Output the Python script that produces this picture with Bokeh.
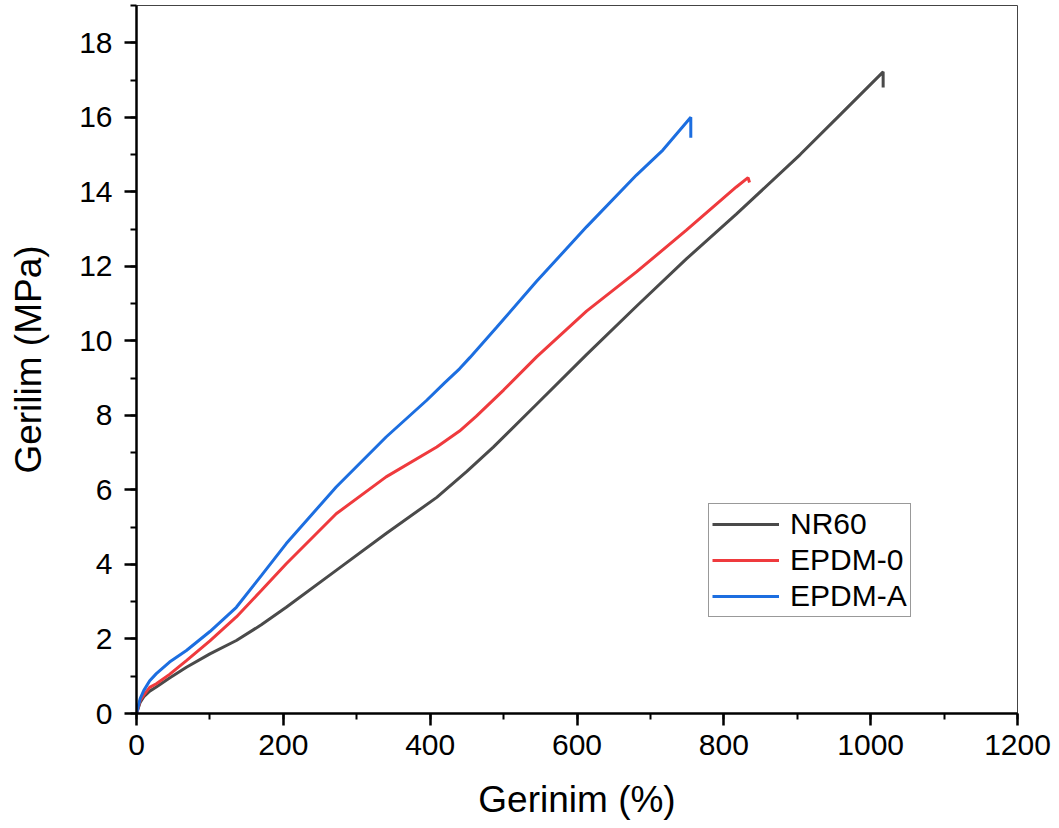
from bokeh.plotting import figure
from bokeh.models import Range1d, SingleIntervalTicker, Legend, LegendItem
from bokeh.embed import file_html
from bokeh.resources import INLINE

# Data (strain %, stress MPa)
nr60_x = [0, 5, 10, 18, 27, 45, 68, 100, 136, 170, 204, 272, 340, 409, 450, 486, 545, 613, 681, 749, 817, 904, 960, 1017, 1017]
nr60_y = [0, 0.3, 0.45, 0.6, 0.71, 0.95, 1.24, 1.6, 1.96, 2.38, 2.85, 3.84, 4.83, 5.8, 6.5, 7.15, 8.3, 9.63, 10.93, 12.2, 13.4, 15.0, 16.1, 17.22, 16.8]

epdm0_x = [0, 5, 10, 18, 27, 45, 68, 100, 136, 170, 204, 272, 340, 409, 440, 463, 500, 545, 613, 681, 749, 817, 833, 835]
epdm0_y = [0, 0.35, 0.5, 0.7, 0.8, 1.05, 1.42, 1.95, 2.59, 3.3, 4.02, 5.36, 6.35, 7.15, 7.58, 7.98, 8.68, 9.57, 10.8, 11.85, 12.97, 14.13, 14.38, 14.25]

epdma_x = [0, 5, 10, 18, 27, 45, 68, 100, 136, 170, 204, 272, 340, 395, 420, 440, 454, 490, 545, 613, 681, 717, 755, 755]
epdma_y = [0, 0.4, 0.62, 0.88, 1.07, 1.38, 1.69, 2.2, 2.85, 3.7, 4.56, 6.08, 7.42, 8.4, 8.88, 9.25, 9.55, 10.35, 11.6, 13.06, 14.45, 15.12, 16.0, 15.45]

names = ["NR60", "EPDM-0", "EPDM-A"]
colors = ["#4a4a4a", "#ef3a3d", "#1c6ee0"]

x_label = "Gerinim (%)"
y_label = "Gerilim (MPa)"

FONT = "Liberation Sans"

p = figure(width=1059, height=828, output_backend="svg", toolbar_location=None,
           x_range=Range1d(0, 1200), y_range=Range1d(0, 19),
           min_border_left=136, min_border_right=42, min_border_top=5, min_border_bottom=115)
p.background_fill_color = "white"
p.border_fill_color = "white"
p.grid.visible = False
p.outline_line_color = "#444444"
p.outline_line_width = 1

p.xaxis.ticker = SingleIntervalTicker(interval=200, num_minor_ticks=2)
p.yaxis.ticker = SingleIntervalTicker(interval=2, num_minor_ticks=2)

for ax in (p.xaxis[0], p.yaxis[0]):
    ax.axis_line_width = 2.5
    ax.axis_line_color = "black"
    ax.major_tick_line_width = 2.5
    ax.minor_tick_line_width = 2
    ax.major_tick_line_color = "black"
    ax.minor_tick_line_color = "black"
    ax.major_tick_out = 12
    ax.major_tick_in = 0
    ax.minor_tick_out = 6
    ax.minor_tick_in = 0
    ax.major_label_text_font = FONT
    ax.major_label_text_font_size = "30px"
    ax.major_label_text_color = "black"
    ax.axis_label_text_font = FONT
    ax.axis_label_text_font_size = "37px"
    ax.axis_label_text_font_style = "normal"
    ax.axis_label_text_color = "black"

p.xaxis.axis_label = x_label
p.yaxis.axis_label = y_label
p.xaxis.major_label_standoff = 9
p.yaxis.major_label_standoff = 12
p.xaxis.axis_label_standoff = 21
p.yaxis.axis_label_standoff = 27

r1 = p.line(nr60_x, nr60_y, line_color=colors[0], line_width=3)
r2 = p.line(epdm0_x, epdm0_y, line_color=colors[1], line_width=3)
r3 = p.line(epdma_x, epdma_y, line_color=colors[2], line_width=3)

legend = Legend(items=[LegendItem(label=names[0], renderers=[r1]),
                       LegendItem(label=names[1], renderers=[r2]),
                       LegendItem(label=names[2], renderers=[r3])],
                location=(572, 96))
legend.label_text_font = FONT
legend.label_text_font_size = "30px"
legend.label_text_color = "black"
legend.glyph_width = 67
legend.glyph_height = 30
legend.label_height = 30
legend.label_standoff = 11
legend.spacing = 2
legend.padding = 3
legend.margin = 0
legend.border_line_color = "#333333"
legend.border_line_width = 1
legend.background_fill_alpha = 1
p.add_layout(legend, "center")

open("out.html", "w").write(file_html(p, INLINE))
